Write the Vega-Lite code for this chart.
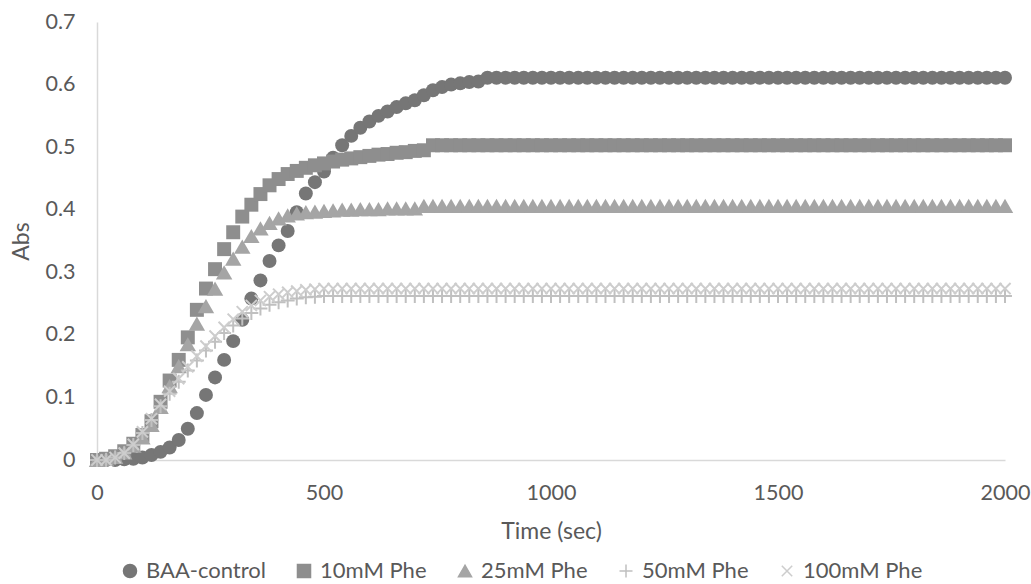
{
"$schema":"https://vega.github.io/schema/vega-lite/v6.json",
"autosize":"none",
"width":908,"height":438,
"padding":{"left":97,"top":22,"right":26,"bottom":124},
"background":"white",
"config":{"view":{"stroke":null},"font":"Lato",
"axis":{"labelFont":"Lato","titleFont":"Lato","labelColor":"#595959","titleColor":"#595959","labelFontSize":21.5,"titleFontSize":23,"titleFontWeight":"normal","grid":false,"ticks":false,"domainColor":"#d9d9d9","domainWidth":1.5,"labelFlush":false},
"legend":{"labelFont":"Lato","labelFontSize":22,"labelColor":"#595959"}},
"data":{"values":[
{"t":0,"s":"BAA-control","v":0},{"t":20,"s":"BAA-control","v":0},{"t":40,"s":"BAA-control","v":0},{"t":60,"s":"BAA-control","v":0.001},{"t":80,"s":"BAA-control","v":0.002},{"t":100,"s":"BAA-control","v":0.004},{"t":120,"s":"BAA-control","v":0.008},{"t":140,"s":"BAA-control","v":0.013},{"t":160,"s":"BAA-control","v":0.02},{"t":180,"s":"BAA-control","v":0.032},{"t":200,"s":"BAA-control","v":0.05},{"t":220,"s":"BAA-control","v":0.075},{"t":240,"s":"BAA-control","v":0.104},{"t":260,"s":"BAA-control","v":0.132},{"t":280,"s":"BAA-control","v":0.16},{"t":300,"s":"BAA-control","v":0.19},{"t":320,"s":"BAA-control","v":0.224},{"t":340,"s":"BAA-control","v":0.258},{"t":360,"s":"BAA-control","v":0.287},{"t":380,"s":"BAA-control","v":0.318},{"t":400,"s":"BAA-control","v":0.343},{"t":420,"s":"BAA-control","v":0.366},{"t":440,"s":"BAA-control","v":0.396},{"t":460,"s":"BAA-control","v":0.426},{"t":480,"s":"BAA-control","v":0.444},{"t":500,"s":"BAA-control","v":0.461},{"t":520,"s":"BAA-control","v":0.483},{"t":540,"s":"BAA-control","v":0.503},{"t":560,"s":"BAA-control","v":0.518},{"t":580,"s":"BAA-control","v":0.531},{"t":600,"s":"BAA-control","v":0.541},{"t":620,"s":"BAA-control","v":0.55},{"t":640,"s":"BAA-control","v":0.557},{"t":660,"s":"BAA-control","v":0.564},{"t":680,"s":"BAA-control","v":0.57},{"t":700,"s":"BAA-control","v":0.575},{"t":720,"s":"BAA-control","v":0.583},{"t":740,"s":"BAA-control","v":0.591},{"t":760,"s":"BAA-control","v":0.596},{"t":780,"s":"BAA-control","v":0.6},{"t":800,"s":"BAA-control","v":0.602},{"t":820,"s":"BAA-control","v":0.604},{"t":840,"s":"BAA-control","v":0.605},{"t":860,"s":"BAA-control","v":0.611},{"t":880,"s":"BAA-control","v":0.611},{"t":900,"s":"BAA-control","v":0.611},{"t":920,"s":"BAA-control","v":0.611},{"t":940,"s":"BAA-control","v":0.611},{"t":960,"s":"BAA-control","v":0.611},{"t":980,"s":"BAA-control","v":0.611},{"t":1000,"s":"BAA-control","v":0.611},{"t":1020,"s":"BAA-control","v":0.611},{"t":1040,"s":"BAA-control","v":0.611},{"t":1060,"s":"BAA-control","v":0.611},{"t":1080,"s":"BAA-control","v":0.611},{"t":1100,"s":"BAA-control","v":0.611},{"t":1120,"s":"BAA-control","v":0.611},{"t":1140,"s":"BAA-control","v":0.611},{"t":1160,"s":"BAA-control","v":0.611},{"t":1180,"s":"BAA-control","v":0.611},{"t":1200,"s":"BAA-control","v":0.611},{"t":1220,"s":"BAA-control","v":0.611},{"t":1240,"s":"BAA-control","v":0.611},{"t":1260,"s":"BAA-control","v":0.611},{"t":1280,"s":"BAA-control","v":0.611},{"t":1300,"s":"BAA-control","v":0.611},{"t":1320,"s":"BAA-control","v":0.611},{"t":1340,"s":"BAA-control","v":0.611},{"t":1360,"s":"BAA-control","v":0.611},{"t":1380,"s":"BAA-control","v":0.611},{"t":1400,"s":"BAA-control","v":0.611},{"t":1420,"s":"BAA-control","v":0.611},{"t":1440,"s":"BAA-control","v":0.611},{"t":1460,"s":"BAA-control","v":0.611},{"t":1480,"s":"BAA-control","v":0.611},{"t":1500,"s":"BAA-control","v":0.611},{"t":1520,"s":"BAA-control","v":0.611},{"t":1540,"s":"BAA-control","v":0.611},{"t":1560,"s":"BAA-control","v":0.611},{"t":1580,"s":"BAA-control","v":0.611},{"t":1600,"s":"BAA-control","v":0.611},{"t":1620,"s":"BAA-control","v":0.611},{"t":1640,"s":"BAA-control","v":0.611},{"t":1660,"s":"BAA-control","v":0.611},{"t":1680,"s":"BAA-control","v":0.611},{"t":1700,"s":"BAA-control","v":0.611},{"t":1720,"s":"BAA-control","v":0.611},{"t":1740,"s":"BAA-control","v":0.611},{"t":1760,"s":"BAA-control","v":0.611},{"t":1780,"s":"BAA-control","v":0.611},{"t":1800,"s":"BAA-control","v":0.611},{"t":1820,"s":"BAA-control","v":0.611},{"t":1840,"s":"BAA-control","v":0.611},{"t":1860,"s":"BAA-control","v":0.611},{"t":1880,"s":"BAA-control","v":0.611},{"t":1900,"s":"BAA-control","v":0.611},{"t":1920,"s":"BAA-control","v":0.611},{"t":1940,"s":"BAA-control","v":0.611},{"t":1960,"s":"BAA-control","v":0.611},{"t":1980,"s":"BAA-control","v":0.611},{"t":2000,"s":"BAA-control","v":0.611},
{"t":0,"s":"10mM Phe","v":0},{"t":20,"s":"10mM Phe","v":0.002},{"t":40,"s":"10mM Phe","v":0.006},{"t":60,"s":"10mM Phe","v":0.014},{"t":80,"s":"10mM Phe","v":0.026},{"t":100,"s":"10mM Phe","v":0.04},{"t":120,"s":"10mM Phe","v":0.062},{"t":140,"s":"10mM Phe","v":0.093},{"t":160,"s":"10mM Phe","v":0.127},{"t":180,"s":"10mM Phe","v":0.16},{"t":200,"s":"10mM Phe","v":0.196},{"t":220,"s":"10mM Phe","v":0.24},{"t":240,"s":"10mM Phe","v":0.274},{"t":260,"s":"10mM Phe","v":0.305},{"t":280,"s":"10mM Phe","v":0.337},{"t":300,"s":"10mM Phe","v":0.364},{"t":320,"s":"10mM Phe","v":0.389},{"t":340,"s":"10mM Phe","v":0.408},{"t":360,"s":"10mM Phe","v":0.425},{"t":380,"s":"10mM Phe","v":0.439},{"t":400,"s":"10mM Phe","v":0.449},{"t":420,"s":"10mM Phe","v":0.457},{"t":440,"s":"10mM Phe","v":0.462},{"t":460,"s":"10mM Phe","v":0.467},{"t":480,"s":"10mM Phe","v":0.471},{"t":500,"s":"10mM Phe","v":0.474},{"t":520,"s":"10mM Phe","v":0.477},{"t":540,"s":"10mM Phe","v":0.48},{"t":560,"s":"10mM Phe","v":0.482},{"t":580,"s":"10mM Phe","v":0.484},{"t":600,"s":"10mM Phe","v":0.486},{"t":620,"s":"10mM Phe","v":0.488},{"t":640,"s":"10mM Phe","v":0.489},{"t":660,"s":"10mM Phe","v":0.491},{"t":680,"s":"10mM Phe","v":0.492},{"t":700,"s":"10mM Phe","v":0.494},{"t":720,"s":"10mM Phe","v":0.495},{"t":740,"s":"10mM Phe","v":0.503},{"t":760,"s":"10mM Phe","v":0.503},{"t":780,"s":"10mM Phe","v":0.503},{"t":800,"s":"10mM Phe","v":0.503},{"t":820,"s":"10mM Phe","v":0.503},{"t":840,"s":"10mM Phe","v":0.503},{"t":860,"s":"10mM Phe","v":0.503},{"t":880,"s":"10mM Phe","v":0.503},{"t":900,"s":"10mM Phe","v":0.503},{"t":920,"s":"10mM Phe","v":0.503},{"t":940,"s":"10mM Phe","v":0.503},{"t":960,"s":"10mM Phe","v":0.503},{"t":980,"s":"10mM Phe","v":0.503},{"t":1000,"s":"10mM Phe","v":0.503},{"t":1020,"s":"10mM Phe","v":0.503},{"t":1040,"s":"10mM Phe","v":0.503},{"t":1060,"s":"10mM Phe","v":0.503},{"t":1080,"s":"10mM Phe","v":0.503},{"t":1100,"s":"10mM Phe","v":0.503},{"t":1120,"s":"10mM Phe","v":0.503},{"t":1140,"s":"10mM Phe","v":0.503},{"t":1160,"s":"10mM Phe","v":0.503},{"t":1180,"s":"10mM Phe","v":0.503},{"t":1200,"s":"10mM Phe","v":0.503},{"t":1220,"s":"10mM Phe","v":0.503},{"t":1240,"s":"10mM Phe","v":0.503},{"t":1260,"s":"10mM Phe","v":0.503},{"t":1280,"s":"10mM Phe","v":0.503},{"t":1300,"s":"10mM Phe","v":0.503},{"t":1320,"s":"10mM Phe","v":0.503},{"t":1340,"s":"10mM Phe","v":0.503},{"t":1360,"s":"10mM Phe","v":0.503},{"t":1380,"s":"10mM Phe","v":0.503},{"t":1400,"s":"10mM Phe","v":0.503},{"t":1420,"s":"10mM Phe","v":0.503},{"t":1440,"s":"10mM Phe","v":0.503},{"t":1460,"s":"10mM Phe","v":0.503},{"t":1480,"s":"10mM Phe","v":0.503},{"t":1500,"s":"10mM Phe","v":0.503},{"t":1520,"s":"10mM Phe","v":0.503},{"t":1540,"s":"10mM Phe","v":0.503},{"t":1560,"s":"10mM Phe","v":0.503},{"t":1580,"s":"10mM Phe","v":0.503},{"t":1600,"s":"10mM Phe","v":0.503},{"t":1620,"s":"10mM Phe","v":0.503},{"t":1640,"s":"10mM Phe","v":0.503},{"t":1660,"s":"10mM Phe","v":0.503},{"t":1680,"s":"10mM Phe","v":0.503},{"t":1700,"s":"10mM Phe","v":0.503},{"t":1720,"s":"10mM Phe","v":0.503},{"t":1740,"s":"10mM Phe","v":0.503},{"t":1760,"s":"10mM Phe","v":0.503},{"t":1780,"s":"10mM Phe","v":0.503},{"t":1800,"s":"10mM Phe","v":0.503},{"t":1820,"s":"10mM Phe","v":0.503},{"t":1840,"s":"10mM Phe","v":0.503},{"t":1860,"s":"10mM Phe","v":0.503},{"t":1880,"s":"10mM Phe","v":0.503},{"t":1900,"s":"10mM Phe","v":0.503},{"t":1920,"s":"10mM Phe","v":0.503},{"t":1940,"s":"10mM Phe","v":0.503},{"t":1960,"s":"10mM Phe","v":0.503},{"t":1980,"s":"10mM Phe","v":0.503},{"t":2000,"s":"10mM Phe","v":0.503},
{"t":0,"s":"25mM Phe","v":0},{"t":20,"s":"25mM Phe","v":0.002},{"t":40,"s":"25mM Phe","v":0.005},{"t":60,"s":"25mM Phe","v":0.012},{"t":80,"s":"25mM Phe","v":0.023},{"t":100,"s":"25mM Phe","v":0.036},{"t":120,"s":"25mM Phe","v":0.056},{"t":140,"s":"25mM Phe","v":0.085},{"t":160,"s":"25mM Phe","v":0.118},{"t":180,"s":"25mM Phe","v":0.15},{"t":200,"s":"25mM Phe","v":0.185},{"t":220,"s":"25mM Phe","v":0.218},{"t":240,"s":"25mM Phe","v":0.246},{"t":260,"s":"25mM Phe","v":0.274},{"t":280,"s":"25mM Phe","v":0.3},{"t":300,"s":"25mM Phe","v":0.322},{"t":320,"s":"25mM Phe","v":0.341},{"t":340,"s":"25mM Phe","v":0.358},{"t":360,"s":"25mM Phe","v":0.37},{"t":380,"s":"25mM Phe","v":0.379},{"t":400,"s":"25mM Phe","v":0.386},{"t":420,"s":"25mM Phe","v":0.391},{"t":440,"s":"25mM Phe","v":0.394},{"t":460,"s":"25mM Phe","v":0.396},{"t":480,"s":"25mM Phe","v":0.397},{"t":500,"s":"25mM Phe","v":0.398},{"t":520,"s":"25mM Phe","v":0.399},{"t":540,"s":"25mM Phe","v":0.4},{"t":560,"s":"25mM Phe","v":0.4},{"t":580,"s":"25mM Phe","v":0.401},{"t":600,"s":"25mM Phe","v":0.401},{"t":620,"s":"25mM Phe","v":0.401},{"t":640,"s":"25mM Phe","v":0.402},{"t":660,"s":"25mM Phe","v":0.402},{"t":680,"s":"25mM Phe","v":0.402},{"t":700,"s":"25mM Phe","v":0.402},{"t":720,"s":"25mM Phe","v":0.406},{"t":740,"s":"25mM Phe","v":0.406},{"t":760,"s":"25mM Phe","v":0.406},{"t":780,"s":"25mM Phe","v":0.406},{"t":800,"s":"25mM Phe","v":0.406},{"t":820,"s":"25mM Phe","v":0.406},{"t":840,"s":"25mM Phe","v":0.406},{"t":860,"s":"25mM Phe","v":0.406},{"t":880,"s":"25mM Phe","v":0.406},{"t":900,"s":"25mM Phe","v":0.406},{"t":920,"s":"25mM Phe","v":0.406},{"t":940,"s":"25mM Phe","v":0.406},{"t":960,"s":"25mM Phe","v":0.406},{"t":980,"s":"25mM Phe","v":0.406},{"t":1000,"s":"25mM Phe","v":0.406},{"t":1020,"s":"25mM Phe","v":0.406},{"t":1040,"s":"25mM Phe","v":0.406},{"t":1060,"s":"25mM Phe","v":0.406},{"t":1080,"s":"25mM Phe","v":0.406},{"t":1100,"s":"25mM Phe","v":0.406},{"t":1120,"s":"25mM Phe","v":0.406},{"t":1140,"s":"25mM Phe","v":0.406},{"t":1160,"s":"25mM Phe","v":0.406},{"t":1180,"s":"25mM Phe","v":0.406},{"t":1200,"s":"25mM Phe","v":0.406},{"t":1220,"s":"25mM Phe","v":0.406},{"t":1240,"s":"25mM Phe","v":0.406},{"t":1260,"s":"25mM Phe","v":0.406},{"t":1280,"s":"25mM Phe","v":0.406},{"t":1300,"s":"25mM Phe","v":0.406},{"t":1320,"s":"25mM Phe","v":0.406},{"t":1340,"s":"25mM Phe","v":0.406},{"t":1360,"s":"25mM Phe","v":0.406},{"t":1380,"s":"25mM Phe","v":0.406},{"t":1400,"s":"25mM Phe","v":0.406},{"t":1420,"s":"25mM Phe","v":0.406},{"t":1440,"s":"25mM Phe","v":0.406},{"t":1460,"s":"25mM Phe","v":0.406},{"t":1480,"s":"25mM Phe","v":0.406},{"t":1500,"s":"25mM Phe","v":0.406},{"t":1520,"s":"25mM Phe","v":0.406},{"t":1540,"s":"25mM Phe","v":0.406},{"t":1560,"s":"25mM Phe","v":0.406},{"t":1580,"s":"25mM Phe","v":0.406},{"t":1600,"s":"25mM Phe","v":0.406},{"t":1620,"s":"25mM Phe","v":0.406},{"t":1640,"s":"25mM Phe","v":0.406},{"t":1660,"s":"25mM Phe","v":0.406},{"t":1680,"s":"25mM Phe","v":0.406},{"t":1700,"s":"25mM Phe","v":0.406},{"t":1720,"s":"25mM Phe","v":0.406},{"t":1740,"s":"25mM Phe","v":0.406},{"t":1760,"s":"25mM Phe","v":0.406},{"t":1780,"s":"25mM Phe","v":0.406},{"t":1800,"s":"25mM Phe","v":0.406},{"t":1820,"s":"25mM Phe","v":0.406},{"t":1840,"s":"25mM Phe","v":0.406},{"t":1860,"s":"25mM Phe","v":0.406},{"t":1880,"s":"25mM Phe","v":0.406},{"t":1900,"s":"25mM Phe","v":0.406},{"t":1920,"s":"25mM Phe","v":0.406},{"t":1940,"s":"25mM Phe","v":0.406},{"t":1960,"s":"25mM Phe","v":0.406},{"t":1980,"s":"25mM Phe","v":0.406},{"t":2000,"s":"25mM Phe","v":0.406},
{"t":0,"s":"50mM Phe","v":0},{"t":20,"s":"50mM Phe","v":0},{"t":40,"s":"50mM Phe","v":0.004},{"t":60,"s":"50mM Phe","v":0.011},{"t":80,"s":"50mM Phe","v":0.024},{"t":100,"s":"50mM Phe","v":0.043},{"t":120,"s":"50mM Phe","v":0.064},{"t":140,"s":"50mM Phe","v":0.086},{"t":160,"s":"50mM Phe","v":0.106},{"t":180,"s":"50mM Phe","v":0.125},{"t":200,"s":"50mM Phe","v":0.143},{"t":220,"s":"50mM Phe","v":0.159},{"t":240,"s":"50mM Phe","v":0.175},{"t":260,"s":"50mM Phe","v":0.189},{"t":280,"s":"50mM Phe","v":0.203},{"t":300,"s":"50mM Phe","v":0.215},{"t":320,"s":"50mM Phe","v":0.226},{"t":340,"s":"50mM Phe","v":0.235},{"t":360,"s":"50mM Phe","v":0.242},{"t":380,"s":"50mM Phe","v":0.248},{"t":400,"s":"50mM Phe","v":0.252},{"t":420,"s":"50mM Phe","v":0.255},{"t":440,"s":"50mM Phe","v":0.258},{"t":460,"s":"50mM Phe","v":0.26},{"t":480,"s":"50mM Phe","v":0.261},{"t":500,"s":"50mM Phe","v":0.262},{"t":520,"s":"50mM Phe","v":0.262},{"t":540,"s":"50mM Phe","v":0.262},{"t":560,"s":"50mM Phe","v":0.262},{"t":580,"s":"50mM Phe","v":0.262},{"t":600,"s":"50mM Phe","v":0.262},{"t":620,"s":"50mM Phe","v":0.262},{"t":640,"s":"50mM Phe","v":0.262},{"t":660,"s":"50mM Phe","v":0.262},{"t":680,"s":"50mM Phe","v":0.262},{"t":700,"s":"50mM Phe","v":0.262},{"t":720,"s":"50mM Phe","v":0.262},{"t":740,"s":"50mM Phe","v":0.262},{"t":760,"s":"50mM Phe","v":0.262},{"t":780,"s":"50mM Phe","v":0.262},{"t":800,"s":"50mM Phe","v":0.262},{"t":820,"s":"50mM Phe","v":0.262},{"t":840,"s":"50mM Phe","v":0.262},{"t":860,"s":"50mM Phe","v":0.262},{"t":880,"s":"50mM Phe","v":0.262},{"t":900,"s":"50mM Phe","v":0.262},{"t":920,"s":"50mM Phe","v":0.262},{"t":940,"s":"50mM Phe","v":0.262},{"t":960,"s":"50mM Phe","v":0.262},{"t":980,"s":"50mM Phe","v":0.262},{"t":1000,"s":"50mM Phe","v":0.262},{"t":1020,"s":"50mM Phe","v":0.262},{"t":1040,"s":"50mM Phe","v":0.262},{"t":1060,"s":"50mM Phe","v":0.262},{"t":1080,"s":"50mM Phe","v":0.262},{"t":1100,"s":"50mM Phe","v":0.262},{"t":1120,"s":"50mM Phe","v":0.262},{"t":1140,"s":"50mM Phe","v":0.262},{"t":1160,"s":"50mM Phe","v":0.262},{"t":1180,"s":"50mM Phe","v":0.262},{"t":1200,"s":"50mM Phe","v":0.262},{"t":1220,"s":"50mM Phe","v":0.262},{"t":1240,"s":"50mM Phe","v":0.262},{"t":1260,"s":"50mM Phe","v":0.262},{"t":1280,"s":"50mM Phe","v":0.262},{"t":1300,"s":"50mM Phe","v":0.262},{"t":1320,"s":"50mM Phe","v":0.262},{"t":1340,"s":"50mM Phe","v":0.262},{"t":1360,"s":"50mM Phe","v":0.262},{"t":1380,"s":"50mM Phe","v":0.262},{"t":1400,"s":"50mM Phe","v":0.262},{"t":1420,"s":"50mM Phe","v":0.262},{"t":1440,"s":"50mM Phe","v":0.262},{"t":1460,"s":"50mM Phe","v":0.262},{"t":1480,"s":"50mM Phe","v":0.262},{"t":1500,"s":"50mM Phe","v":0.262},{"t":1520,"s":"50mM Phe","v":0.262},{"t":1540,"s":"50mM Phe","v":0.262},{"t":1560,"s":"50mM Phe","v":0.262},{"t":1580,"s":"50mM Phe","v":0.262},{"t":1600,"s":"50mM Phe","v":0.262},{"t":1620,"s":"50mM Phe","v":0.262},{"t":1640,"s":"50mM Phe","v":0.262},{"t":1660,"s":"50mM Phe","v":0.262},{"t":1680,"s":"50mM Phe","v":0.262},{"t":1700,"s":"50mM Phe","v":0.262},{"t":1720,"s":"50mM Phe","v":0.262},{"t":1740,"s":"50mM Phe","v":0.262},{"t":1760,"s":"50mM Phe","v":0.262},{"t":1780,"s":"50mM Phe","v":0.262},{"t":1800,"s":"50mM Phe","v":0.262},{"t":1820,"s":"50mM Phe","v":0.262},{"t":1840,"s":"50mM Phe","v":0.262},{"t":1860,"s":"50mM Phe","v":0.262},{"t":1880,"s":"50mM Phe","v":0.262},{"t":1900,"s":"50mM Phe","v":0.262},{"t":1920,"s":"50mM Phe","v":0.262},{"t":1940,"s":"50mM Phe","v":0.262},{"t":1960,"s":"50mM Phe","v":0.262},{"t":1980,"s":"50mM Phe","v":0.262},{"t":2000,"s":"50mM Phe","v":0.262},
{"t":0,"s":"100mM Phe","v":0},{"t":20,"s":"100mM Phe","v":0},{"t":40,"s":"100mM Phe","v":0.004},{"t":60,"s":"100mM Phe","v":0.011},{"t":80,"s":"100mM Phe","v":0.025},{"t":100,"s":"100mM Phe","v":0.045},{"t":120,"s":"100mM Phe","v":0.066},{"t":140,"s":"100mM Phe","v":0.089},{"t":160,"s":"100mM Phe","v":0.11},{"t":180,"s":"100mM Phe","v":0.13},{"t":200,"s":"100mM Phe","v":0.149},{"t":220,"s":"100mM Phe","v":0.166},{"t":240,"s":"100mM Phe","v":0.182},{"t":260,"s":"100mM Phe","v":0.198},{"t":280,"s":"100mM Phe","v":0.212},{"t":300,"s":"100mM Phe","v":0.225},{"t":320,"s":"100mM Phe","v":0.237},{"t":340,"s":"100mM Phe","v":0.247},{"t":360,"s":"100mM Phe","v":0.255},{"t":380,"s":"100mM Phe","v":0.261},{"t":400,"s":"100mM Phe","v":0.265},{"t":420,"s":"100mM Phe","v":0.268},{"t":440,"s":"100mM Phe","v":0.27},{"t":460,"s":"100mM Phe","v":0.272},{"t":480,"s":"100mM Phe","v":0.273},{"t":500,"s":"100mM Phe","v":0.274},{"t":520,"s":"100mM Phe","v":0.274},{"t":540,"s":"100mM Phe","v":0.274},{"t":560,"s":"100mM Phe","v":0.274},{"t":580,"s":"100mM Phe","v":0.274},{"t":600,"s":"100mM Phe","v":0.274},{"t":620,"s":"100mM Phe","v":0.274},{"t":640,"s":"100mM Phe","v":0.274},{"t":660,"s":"100mM Phe","v":0.274},{"t":680,"s":"100mM Phe","v":0.274},{"t":700,"s":"100mM Phe","v":0.274},{"t":720,"s":"100mM Phe","v":0.274},{"t":740,"s":"100mM Phe","v":0.274},{"t":760,"s":"100mM Phe","v":0.274},{"t":780,"s":"100mM Phe","v":0.274},{"t":800,"s":"100mM Phe","v":0.274},{"t":820,"s":"100mM Phe","v":0.274},{"t":840,"s":"100mM Phe","v":0.274},{"t":860,"s":"100mM Phe","v":0.274},{"t":880,"s":"100mM Phe","v":0.274},{"t":900,"s":"100mM Phe","v":0.274},{"t":920,"s":"100mM Phe","v":0.274},{"t":940,"s":"100mM Phe","v":0.274},{"t":960,"s":"100mM Phe","v":0.274},{"t":980,"s":"100mM Phe","v":0.274},{"t":1000,"s":"100mM Phe","v":0.274},{"t":1020,"s":"100mM Phe","v":0.274},{"t":1040,"s":"100mM Phe","v":0.274},{"t":1060,"s":"100mM Phe","v":0.274},{"t":1080,"s":"100mM Phe","v":0.274},{"t":1100,"s":"100mM Phe","v":0.274},{"t":1120,"s":"100mM Phe","v":0.274},{"t":1140,"s":"100mM Phe","v":0.274},{"t":1160,"s":"100mM Phe","v":0.274},{"t":1180,"s":"100mM Phe","v":0.274},{"t":1200,"s":"100mM Phe","v":0.274},{"t":1220,"s":"100mM Phe","v":0.274},{"t":1240,"s":"100mM Phe","v":0.274},{"t":1260,"s":"100mM Phe","v":0.274},{"t":1280,"s":"100mM Phe","v":0.274},{"t":1300,"s":"100mM Phe","v":0.274},{"t":1320,"s":"100mM Phe","v":0.274},{"t":1340,"s":"100mM Phe","v":0.274},{"t":1360,"s":"100mM Phe","v":0.274},{"t":1380,"s":"100mM Phe","v":0.274},{"t":1400,"s":"100mM Phe","v":0.274},{"t":1420,"s":"100mM Phe","v":0.274},{"t":1440,"s":"100mM Phe","v":0.274},{"t":1460,"s":"100mM Phe","v":0.274},{"t":1480,"s":"100mM Phe","v":0.274},{"t":1500,"s":"100mM Phe","v":0.274},{"t":1520,"s":"100mM Phe","v":0.274},{"t":1540,"s":"100mM Phe","v":0.274},{"t":1560,"s":"100mM Phe","v":0.274},{"t":1580,"s":"100mM Phe","v":0.274},{"t":1600,"s":"100mM Phe","v":0.274},{"t":1620,"s":"100mM Phe","v":0.274},{"t":1640,"s":"100mM Phe","v":0.274},{"t":1660,"s":"100mM Phe","v":0.274},{"t":1680,"s":"100mM Phe","v":0.274},{"t":1700,"s":"100mM Phe","v":0.274},{"t":1720,"s":"100mM Phe","v":0.274},{"t":1740,"s":"100mM Phe","v":0.274},{"t":1760,"s":"100mM Phe","v":0.274},{"t":1780,"s":"100mM Phe","v":0.274},{"t":1800,"s":"100mM Phe","v":0.274},{"t":1820,"s":"100mM Phe","v":0.274},{"t":1840,"s":"100mM Phe","v":0.274},{"t":1860,"s":"100mM Phe","v":0.274},{"t":1880,"s":"100mM Phe","v":0.274},{"t":1900,"s":"100mM Phe","v":0.274},{"t":1920,"s":"100mM Phe","v":0.274},{"t":1940,"s":"100mM Phe","v":0.274},{"t":1960,"s":"100mM Phe","v":0.274},{"t":1980,"s":"100mM Phe","v":0.274},{"t":2000,"s":"100mM Phe","v":0.274}
]},
"mark":{"type":"point","filled":true,"opacity":1},
"encoding":{
"x":{"field":"t","type":"quantitative","scale":{"domain":[0,2000],"nice":false,"zero":false},"axis":{"values":[0,500,1000,1500,2000],"format":"d","title":"Time (sec)","labelPadding":22,"titlePadding":17}},
"y":{"field":"v","type":"quantitative","scale":{"domain":[0,0.7],"nice":false},"axis":{"values":[0,0.1,0.2,0.3,0.4,0.5,0.6,0.7],"format":".1~f","title":"Abs","labelPadding":22,"titlePadding":11}},
"color":{"field":"s","type":"nominal","sort":null,"scale":{"domain":["BAA-control","10mM Phe","25mM Phe","50mM Phe","100mM Phe"],"range":["#767676","#8e8e8e","#a5a5a5","#c0c0c0","#cdcdcd"]},
"legend":{"title":null,"orient":"none","direction":"horizontal","legendX":22,"legendY":538,"symbolSize":170,"columnPadding":27,"labelOffset":5,
"encode":{"symbols":{"update":{"stroke":{"scale":"color","field":"value"},"strokeWidth":{"signal":"datum.value=='50mM Phe'||datum.value=='100mM Phe'?1.5:0"}}}}}},
"shape":{"field":"s","type":"nominal","sort":null,"scale":{"domain":["BAA-control","10mM Phe","25mM Phe","50mM Phe","100mM Phe"],"range":["circle","square","triangle-up","M-1,0L1,0M0,-1L0,1","M-0.8,-0.8L0.8,0.8M-0.8,0.8L0.8,-0.8"]},"legend":{"title":null}},
"stroke":{"field":"s","type":"nominal","sort":null,"scale":{"domain":["BAA-control","10mM Phe","25mM Phe","50mM Phe","100mM Phe"],"range":["#767676","#8e8e8e","#a5a5a5","#c0c0c0","#cdcdcd"]},"legend":null},
"strokeWidth":{"condition":{"test":"datum.s=='50mM Phe'||datum.s=='100mM Phe'","value":2},"value":0},
"size":{"condition":{"test":"datum.s=='25mM Phe'","value":270},"value":195}
}
}
